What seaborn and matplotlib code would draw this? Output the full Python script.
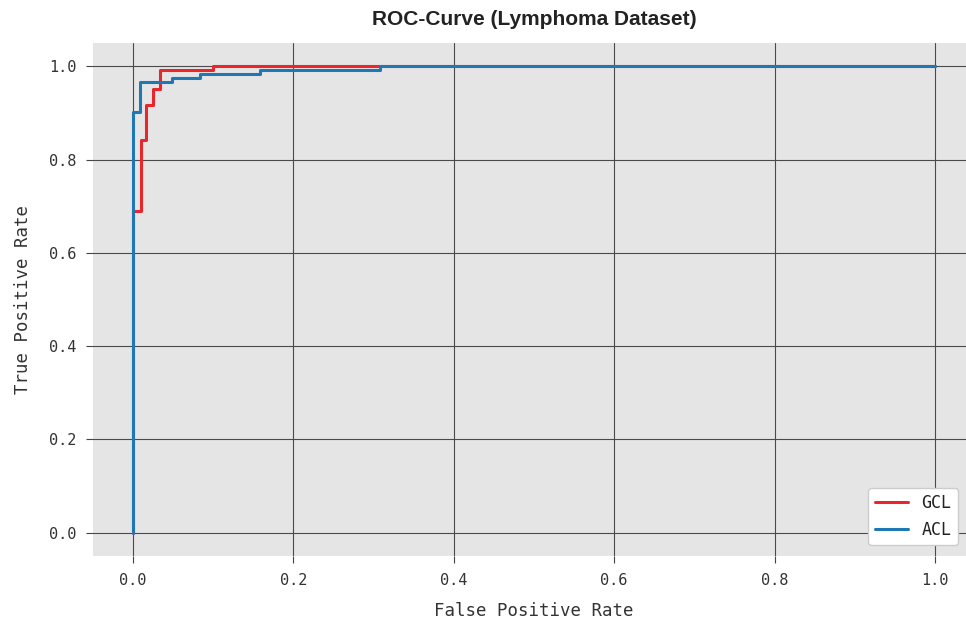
import matplotlib
matplotlib.use("Agg")
import matplotlib.pyplot as plt
import seaborn as sns
import pandas as pd

# ROC curve vertices
gcl_fpr = [0.0, 0.0, 0.0095, 0.0095, 0.016, 0.016, 0.025, 0.025, 0.034, 0.034, 0.1, 0.1, 1.0]
gcl_tpr = [0.0, 0.69, 0.69, 0.842, 0.842, 0.917, 0.917, 0.951, 0.951, 0.991, 0.991, 1.0, 1.0]

acl_fpr = [0.0, 0.0, 0.0087, 0.0087, 0.049, 0.049, 0.0835, 0.0835, 0.158, 0.158, 0.308, 0.308, 1.0]
acl_tpr = [0.0, 0.901, 0.901, 0.966, 0.966, 0.975, 0.975, 0.983, 0.983, 0.991, 0.991, 1.0, 1.0]

labels = ["GCL", "ACL"]
colors = ["#e8262b", "#1f77b4"]
tick_vals = [0.0, 0.2, 0.4, 0.6, 0.8, 1.0]

sns.set_theme(style="darkgrid")
plt.rcParams["font.family"] = ["DejaVu Sans Mono", "DejaVu Sans"]

fig = plt.figure(figsize=(9.66, 6.22), dpi=100)
ax = fig.add_axes([0.0963, 0.1061, 0.913, 0.8248])
ax.set_facecolor("#e5e5e5")

for fpr, tpr, lab, col in zip([gcl_fpr, acl_fpr], [gcl_tpr, acl_tpr], labels, colors):
    df = pd.DataFrame({"fpr": fpr, "tpr": tpr})
    sns.lineplot(data=df, x="fpr", y="tpr", sort=False, estimator=None,
                 color=col, linewidth=2.2, label=lab, ax=ax)

ax.set_xlim(-0.05, 1.05)
ax.set_ylim(-0.05, 1.05)
ax.set_xticks(tick_vals)
ax.set_yticks(tick_vals)
ax.set_xticklabels([f"{v:.1f}" for v in tick_vals])
ax.set_yticklabels([f"{v:.1f}" for v in tick_vals])
ax.grid(True, color="#4a4a4a", linewidth=0.8)
ax.tick_params(axis="both", which="both", direction="out", length=5, width=0.8,
               color="#444444", labelsize=11, labelcolor="#333333", pad=7,
               bottom=True, left=True)
for s in ax.spines.values():
    s.set_visible(False)

ax.set_xlabel("False Positive Rate", fontsize=12.5, color="#333333", labelpad=10)
ax.set_ylabel("True Positive Rate", fontsize=12.5, color="#333333", labelpad=12)
ax.set_title("ROC-Curve (Lymphoma Dataset)", fontsize=15, fontweight="bold",
             family="Liberation Sans", color="#222222", pad=13)

leg = ax.legend(loc="lower right", bbox_to_anchor=(0.981, 0.021), fontsize=12,
                frameon=True, facecolor="white", edgecolor="#cccccc",
                framealpha=1.0, handlelength=2.0, borderaxespad=0.0)
for t in leg.get_texts():
    t.set_color("#222222")

fig.savefig("out.png", dpi=100)
